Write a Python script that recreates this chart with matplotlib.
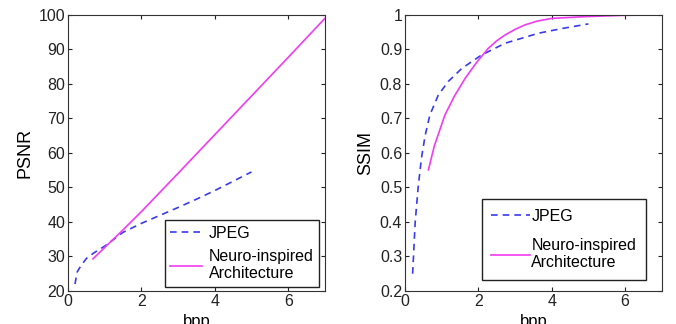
import matplotlib
matplotlib.use("Agg")
import matplotlib.pyplot as plt

plt.rcParams['font.family'] = ['Liberation Sans', 'DejaVu Sans']
plt.rcParams['font.size'] = 11.5

# PSNR vs bpp
jpeg_bpp = [0.19, 0.25, 0.35, 0.5, 0.7, 1.0, 1.5, 2.0, 2.5, 3.0, 3.5, 4.0, 4.5, 5.0]
jpeg_psnr = [22, 25.5, 27.3, 29.4, 31, 33, 37, 39.6, 41.9, 44.2, 46.6, 49.1, 51.8, 54.5]
neuro_bpp = [0.68, 1.0, 1.45, 2.0, 3.0, 4.0, 5.0, 6.0, 7.0]
neuro_psnr = [29.3, 32.6, 37.2, 43.0, 54.1, 65.3, 76.5, 87.7, 99]

# SSIM vs bpp
jpeg_bpp_s = [0.21, 0.28, 0.36, 0.45, 0.55, 0.68, 0.91, 1.18, 1.55, 2.09, 2.73, 3.64, 4.3, 5.0]
jpeg_ssim = [0.25, 0.40, 0.50, 0.585, 0.65, 0.71, 0.768, 0.807, 0.845, 0.884, 0.918, 0.947, 0.961, 0.974]
neuro_bpp_s = [0.64, 0.8, 1.09, 1.35, 1.64, 1.95, 2.27, 2.5, 2.73, 3.0, 3.27, 3.6, 4.0, 4.9, 6.0, 7.0]
neuro_ssim = [0.551, 0.62, 0.71, 0.765, 0.816, 0.862, 0.903, 0.925, 0.942, 0.958, 0.971, 0.982, 0.99, 0.995, 0.999, 1.0]

blue = '#3a3aee'
pink = '#f03cf0'

fig = plt.figure(figsize=(6.76, 3.24), dpi=100)
ax1 = fig.add_axes([0.1006, 0.1019, 0.380, 0.852])
ax2 = fig.add_axes([0.599, 0.1019, 0.380, 0.852])


def style(ax):
    ax.set_xlim(0, 7)
    ax.set_xticks([0, 2, 4, 6])
    ax.tick_params(direction='in', top=True, right=True, length=3, width=0.8,
                   colors='#222222', labelsize=11.5, pad=2)
    for s in ax.spines.values():
        s.set_color('#333333')
        s.set_linewidth(0.8)
    ax.set_xlabel('bpp', fontsize=12, labelpad=4)


ax1.plot(jpeg_bpp, jpeg_psnr, '--', color=blue, lw=1.2, dashes=(4, 3), label='JPEG')
ax1.plot(neuro_bpp, neuro_psnr, '-', color=pink, lw=1.2, label='Neuro-inspired\nArchitecture')
style(ax1)
ax1.set_ylim(20, 100)
ax1.set_yticks(range(20, 101, 10))
ax1.set_ylabel('PSNR', fontsize=13, labelpad=4)
ax1.legend(loc='lower right', bbox_to_anchor=(0.977, 0.0145), fancybox=False,
           edgecolor='#222222', framealpha=1, handlelength=2.0, borderaxespad=0,
           fontsize=11.5, labelspacing=0.5, handletextpad=0.4, borderpad=0.35)

ax2.plot(jpeg_bpp_s, jpeg_ssim, '--', color=blue, lw=1.2, dashes=(4, 3), label='JPEG')
ax2.plot(neuro_bpp_s, neuro_ssim, '-', color=pink, lw=1.2, label='Neuro-inspired\nArchitecture')
style(ax2)
ax2.set_ylim(0.2, 1.0)
ax2.set_yticks([0.2, 0.3, 0.4, 0.5, 0.6, 0.7, 0.8, 0.9, 1.0])
ax2.set_yticklabels(['0.2', '0.3', '0.4', '0.5', '0.6', '0.7', '0.8', '0.9', '1'])
ax2.set_ylabel('SSIM', fontsize=13, labelpad=4)
ax2.legend(loc='lower right', bbox_to_anchor=(0.938, 0.04), fancybox=False,
           edgecolor='#222222', framealpha=1, handlelength=2.4, borderaxespad=0,
           fontsize=11.5, labelspacing=0.9, handletextpad=0.1, borderpad=0.6)

fig.savefig('out.png', dpi=100)
